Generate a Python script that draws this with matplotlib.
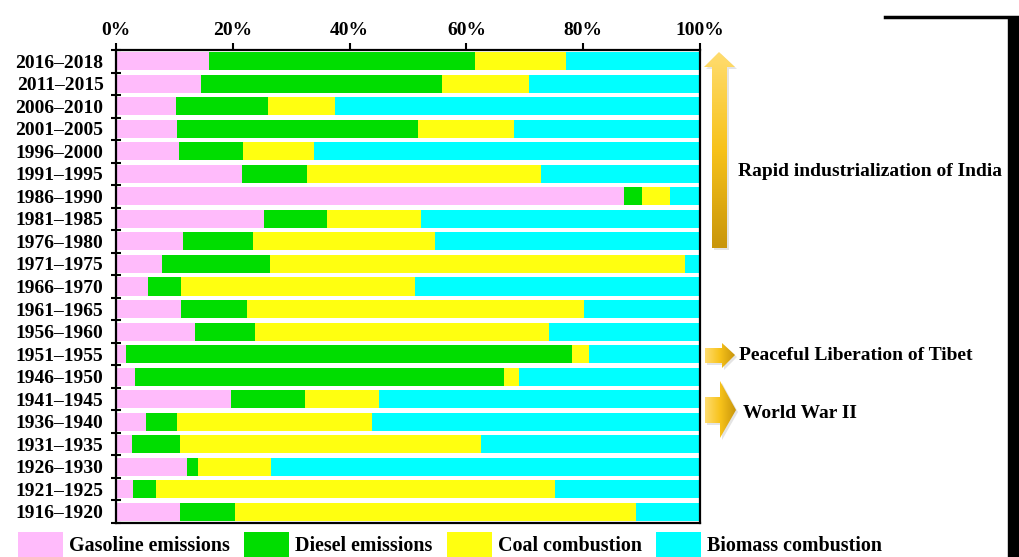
import numpy as np
import matplotlib
matplotlib.use("Agg")
from matplotlib import pyplot as plt
from matplotlib.patches import Polygon, Patch, Rectangle
from matplotlib.ticker import FixedLocator, FuncFormatter

plt.rcParams['font.family'] = 'Liberation Serif'
plt.rcParams['font.weight'] = 'bold'

periods = ['2016–2018', '2011–2015', '2006–2010', '2001–2005', '1996–2000',
           '1991–1995', '1986–1990', '1981–1985', '1976–1980', '1971–1975',
           '1966–1970', '1961–1965', '1956–1960', '1951–1955', '1946–1950',
           '1941–1945', '1936–1940', '1931–1935', '1926–1930', '1921–1925',
           '1916–1920']
gasoline = [15.9, 14.6, 10.2, 10.4, 10.8, 21.6, 87.0, 25.3, 11.5, 7.9, 5.4,
            11.1, 13.6, 1.7, 3.3, 19.7, 5.1, 2.7, 12.1, 2.9, 10.9]
diesel = [45.6, 41.3, 15.8, 41.3, 11.0, 11.1, 3.0, 10.9, 12.0, 18.5, 5.7,
          11.4, 10.2, 76.3, 63.1, 12.6, 5.4, 8.2, 1.9, 3.9, 9.5]
coal = [15.5, 14.9, 11.5, 16.4, 12.1, 40.1, 4.8, 16.0, 31.2, 71.0, 40.1,
        57.6, 50.3, 3.0, 2.6, 12.7, 33.3, 51.6, 12.5, 68.4, 68.6]
biomass = [23.0, 29.2, 62.5, 31.9, 66.1, 27.2, 5.2, 47.8, 45.3, 2.6, 48.8,
           19.9, 25.9, 19.0, 31.0, 55.0, 56.2, 37.5, 73.5, 24.8, 11.0]
sources = ['Gasoline emissions', 'Diesel emissions', 'Coal combustion',
           'Biomass combustion']
colors = ['#ffbbfb', '#00dd00', '#ffff10', '#00ffff']

W, H = 1019, 557
fig = plt.figure(figsize=(W / 100, H / 100), dpi=100)
ax = fig.add_axes([116 / W, 1 - 523 / H, 584 / W, 473 / H])

y = np.arange(len(periods))[::-1]
left = np.zeros(len(periods))
for vals, c, name in zip([gasoline, diesel, coal, biomass], colors, sources):
    vals = np.array(vals)
    ax.barh(y, vals, left=left, height=0.8, color=c, label=name)
    left += vals

ax.set_xlim(0, 100)
ax.set_ylim(-0.5, len(periods) - 0.5)
ax.xaxis.tick_top()
ax.set_xticks(np.arange(0, 101, 20))
ax.xaxis.set_major_formatter(FuncFormatter(lambda v, p: f'{v:.0f}%'))
ax.tick_params(axis='x', direction='out', length=5, width=1.5, labelsize=14,
               pad=3)
ax.set_yticks(y)
ax.set_yticklabels(periods)
ax.tick_params(axis='y', which='major', length=0, labelsize=14, pad=9)
ax.yaxis.set_minor_locator(FixedLocator(np.arange(-0.5, len(periods), 1)))
ax.tick_params(axis='y', which='minor', direction='inout', length=7, width=1.5)
for s in ax.spines.values():
    s.set_linewidth(1.6)

# legend along the bottom edge
handles = [Patch(facecolor=c, edgecolor='none') for c in colors]
fig.legend(handles, sources, loc='lower left', bbox_to_anchor=(4 / W, -15 / H),
           ncol=4, frameon=False, fontsize=14.4, handlelength=2.25,
           handleheight=1.65, handletextpad=0.3, columnspacing=0.72,
           borderpad=0.2)

# overlay in pixel coordinates for arrows and notes
ov = fig.add_axes([0, 0, 1, 1], zorder=5)
ov.set_xlim(0, W)
ov.set_ylim(H, 0)
ov.axis('off')
ov.patch.set_alpha(0)

gold = matplotlib.colors.LinearSegmentedColormap.from_list(
    'gold', ['#ffdc6e', '#f7c21a', '#c9960c'])


def grad_arrow(pts, vertical):
    xs = [p[0] for p in pts]
    ys = [p[1] for p in pts]
    ov.add_patch(Polygon([(px + 2, py + 2) for px, py in pts], closed=True,
                         facecolor='#e4e4e4', edgecolor='none'))
    poly = Polygon(pts, closed=True, facecolor='none', edgecolor='none')
    ov.add_patch(poly)
    g = np.linspace(0, 1, 100)
    img = g[:, None] if vertical else g[None, :]
    im = ov.imshow(img, cmap=gold, aspect='auto', zorder=3,
                   extent=(min(xs), max(xs), max(ys), min(ys)))
    im.set_clip_path(poly)


grad_arrow([(712, 248), (712, 67), (704, 67), (719, 52), (735, 67),
            (727, 67), (727, 248)], True)
grad_arrow([(705, 348), (722, 348), (722, 343), (735, 355), (722, 368),
            (722, 363), (705, 363)], False)
grad_arrow([(705, 397), (720, 397), (720, 381), (736, 410), (720, 438),
            (720, 423), (705, 423)], False)

ov.text(738, 172, 'Rapid industrialization of India', fontsize=14,
        va='center', ha='left')
ov.text(739, 355, 'Peaceful Liberation of Tibet', fontsize=14,
        va='center', ha='left')
ov.text(743, 413, 'World War II', fontsize=14, va='center', ha='left')

# black frame edges at the top right
ov.plot([885, W], [17, 17], color='black', lw=2.5)
ov.add_patch(Rectangle((1008, 17), 11, H - 17, color='black'))

fig.savefig('out.png', dpi=100)
